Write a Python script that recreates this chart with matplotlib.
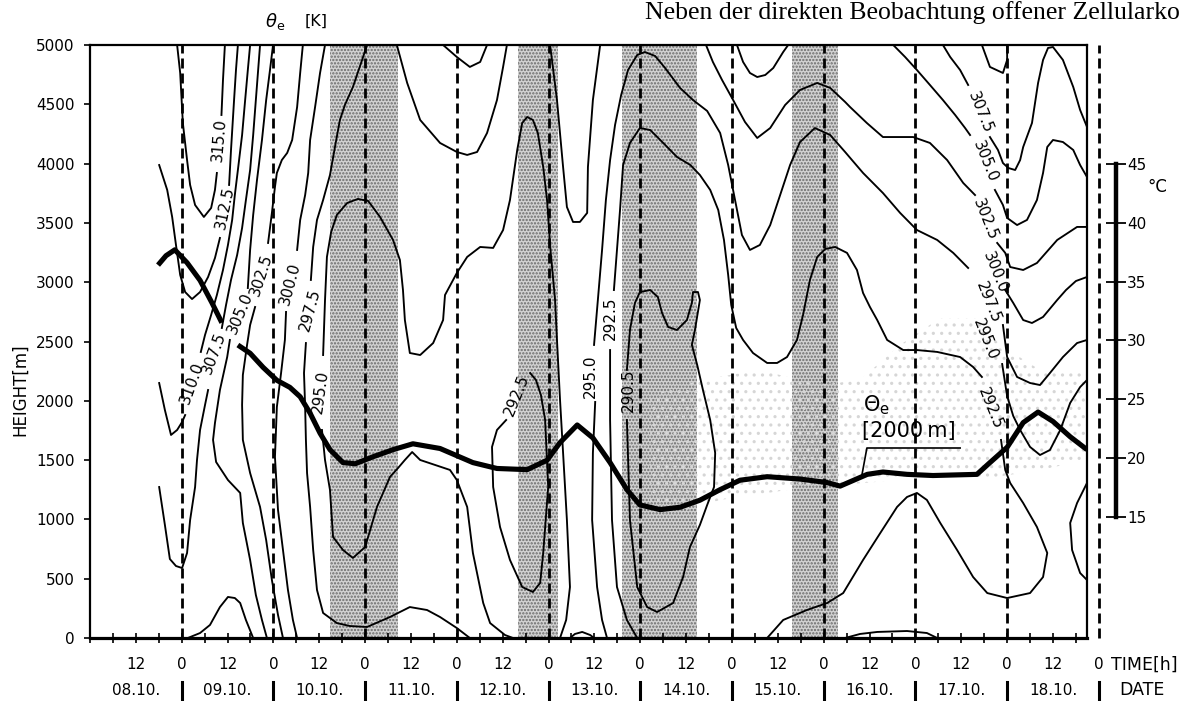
import numpy as np
import matplotlib.pyplot as plt
from matplotlib.patches import Polygon

plt.rcParams['font.family'] = 'DejaVu Sans'
plt.rcParams['mathtext.fontset'] = 'dejavusans'
plt.rcParams['hatch.linewidth'] = 1.1

nan = np.nan

# time axis: hours since 08.10. 00h ; heights in m
# theta_e at 2000 m (deg C, right scale)
theta_t = [17.8, 19.9, 22.2, 25.4, 28.8, 31.9, 34.5, nan,
           38.7, 41.9, 45.3, 48.9, 52.3, 55.0, 57.6, 60.2, 62.8, 66.2,
           69.4, 74.1, 79.3, 84.5, 91.6, 100.2, 106.5, 114.4, 119.6, 123.0,
           127.5, 131.6, 136.1, 140.5, 143.9, 149.2, 154.4, 159.6, 164.9, 170.1,
           177.2, 185.8, 192.9, 196.3, 203.4, 207.5, 213.8, 220.6, 232.1, 235.5,
           240.0, 244.2, 248.1, 252.0, 256.5, 260.9]
theta_c = [36.4, 37.2, 37.7, 36.6, 35.1, 33.2, 31.5, nan,
           29.6, 28.9, 27.7, 26.6, 26.0, 25.2, 23.8, 22.1, 20.7, 19.6,
           19.5, 20.1, 20.7, 21.2, 20.8, 19.6, 19.1, 19.0, 19.8, 21.3,
           22.8, 21.7, 19.6, 17.3, 16.0, 15.6, 15.8, 16.4, 17.3, 18.1,
           18.4, 18.2, 17.9, 17.6, 18.6, 18.8, 18.6, 18.5, 18.6, 19.6,
           20.9, 23.0, 23.9, 23.1, 21.8, 20.7]

# isentropes of theta_e (K); nan = gap for the value label
k315_t = [22.8, 23.6, 24.3, 25.4, 26.2, 27.5, 29.8, 31.7, 32.7, 33.2, nan, 34.4, 34.8, 35.3]
k315_h = [5000, 4764, 4342, 4030, 3820, 3651, 3550, 3626, 3778, 3921, nan, 4410, 4705, 5000]

k3125_t = [18.1, 20.2, 21.5, 22.5, 23.6, 24.9, 26.7, 28.8, 30.9, 32.7, 34.0, nan, 36.4, 36.9, 37.7, 38.2, 38.7]
k3125_h = [3988, 3778, 3550, 3314, 3061, 2917, 2858, 2917, 3044, 3204, 3373, nan, 3820, 4115, 4536, 4789, 5000]

k310_t = [18.1, 19.6, 21.2, 22.8, 24.1, 24.9, nan,
          29.0, 30.1, 31.7, 33.2, 34.8, 36.1, 37.2, 37.9, 38.7, 39.8, 40.6, 41.3, 41.9]
k310_h = [2150, 1922, 1712, 1754, 1821, 1880, nan,
          2412, 2555, 2724, 2892, 3103, 3314, 3525, 3735, 3946, 4241, 4536, 4789, 5000]

k3075_t = [18.1, 19.6, 20.9, 22.5, 24.1, 25.4, 26.2, 27.5, 28.0, 28.8, 30.1, 30.9, nan,
           34.5, 35.6, 36.9, 38.5, 39.8, 40.8, 41.9, 42.7, 43.4, 44.0, 44.5]
k3075_h = [1273, 953, 666, 607, 590, 717, 995, 1273, 1501, 1754, 1965, 2091, nan,
           2614, 2808, 3019, 3229, 3457, 3693, 3946, 4241, 4536, 4789, 5000]

k305_t = [41.3, 41.9, 42.7, 43.7, 45.0, 46.1, 47.1, 47.9, nan,
          36.6, 35.9, 34.0, 32.7, 32.2, 33.0, 36.1, 39.3, 40.0, 41.9, 43.4, 45.0, 46.3]
k305_h = [2951, 3272, 3567, 3862, 4199, 4536, 4789, 5000, nan,
          2513, 2369, 2091, 1813, 1670, 1484, 1332, 1223, 970, 658, 363, 152, 0]

k3025_t = [46.6, 47.6, 48.4, 48.9, 50.2, 51.6, 52.9, 54.2, 55.0, 55.7, nan,
           43.2, 41.9, 41.1, 40.0, 39.8, 40.0, 41.9, 44.5, 46.1, 47.6, 49.2, 50.5]
k3025_h = [3331, 3584, 3803, 3921, 4030, 4090, 4199, 4477, 4764, 5000, nan,
           2791, 2639, 2471, 2218, 1965, 1670, 1391, 1105, 826, 489, 194, 0]

k300_t = [61.5, 60.2, 58.9, 57.6, 57.1, 56.3, 55.0, 54.2, nan,
          51.3, 51.0, 50.0, 48.9, 48.4, 49.2, 50.5, 51.8, 53.1, 54.2]
k300_h = [5000, 4764, 4477, 4199, 3921, 3735, 3525, 3272, nan,
          2749, 2513, 2234, 1948, 1526, 1079, 742, 405, 152, 0]

k2975_t = [72.5, 71.2, 68.8, 66.7, 65.4, 64.1, 62.8, 61.0, 59.4, 58.4, 57.8, nan,
           56.5, 56.0, 56.3, 56.5, 56.8, 57.6, 58.4, 59.4, 61.0, 64.6, 68.0, 72.5,
           78.5, 83.7, 88.2, 91.6, 96.0, 99.4]
k2975_h = [5000, 4874, 4646, 4494, 4368, 4140, 3904, 3693, 3525, 3297, 3019, nan,
           2487, 2234, 1948, 1670, 1391, 1105, 742, 405, 211, 126, 101, 93,
           177, 261, 236, 177, 84, 0]

k295_t = [110.7, 108.6, 104.7, 102.9, 100.2, 98.7, 96.0, 94.2, 86.4, 84.3, 82.4, 80.6,
          78.5, 75.1, 72.0, 68.8, 66.2, 63.6, 62.8, 61.5, 60.7, nan,
          61.0, 61.5, 62.0, 63.1, 64.6, 67.3, 70.1, 72.8, 75.9, 79.3, 81.1, 81.9,
          82.4, 83.7, 86.4, 89.8, 92.4, 92.9, 96.0, 98.7, 102.1, 105.5, 108.1, 109.9,
          111.8, 113.1, 114.4, 115.9, 117.2, 118.6, 119.6, 120.5, 121.7, 122.2, 123.0,
          123.8, 124.8, 125.6, 124.6, 123.0]
k295_h = [0, 25, 126, 295, 717, 1105, 1332, 1417, 1501, 1568, 1501, 1433,
          1358, 1105, 767, 675, 742, 852, 1248, 1501, 1754, nan,
          2386, 2850, 3213, 3423, 3567, 3668, 3702, 3685, 3550, 3356, 3187, 2934,
          2681, 2403, 2386, 2487, 2681, 2892, 3078, 3213, 3297, 3289, 3440, 3693,
          4115, 4342, 4393, 4368, 4258, 3971, 3693, 3272, 2850, 2513, 2007,
          1560, 995, 430, 152, 0]

k295b_t = [135.3, 134.0, 132.7, 131.4, 131.6, 132.2, nan,
           131.9, 132.9, 134.0, 135.0, 136.1, 137.4, 139.0, 140.8, 143.2, 145.2,
           147.9, 150.5, 154.4, 157.8, 161.5, 164.9, 167.0, 168.8, 170.6, 172.7,
           175.3, 178.0, 180.6, 183.2, 185.8, 189.7, 193.7, 197.6, 199.4, 202.3,
           207.5, 212.0, 216.4, 221.7, 225.9, 229.8, nan,
           239.5, 241.6, 244.2, 246.5, 249.4, 253.1, 255.4, 258.0, 260.9]
k295b_h = [0, 152, 430, 995, 1560, 1990, nan,
           2471, 2850, 3272, 3693, 4030, 4326, 4579, 4789, 4916, 4941,
           4907, 4806, 4638, 4536, 4444, 4258, 3988, 3693, 3398, 3272,
           3314, 3482, 3735, 3988, 4182, 4300, 4241, 4098, 4030, 3921,
           3752, 3584, 3440, 3356, 3247, 3120, nan,
           2934, 2825, 2681, 2656, 2707, 2850, 2934, 3010, 3044]

k2925_t = [137.1, 137.9, 138.7, 139.5, 141.3, 143.9, 146.6, 150.0, 153.6, 157.1,
           159.6, 162.3, 164.4, 165.9, 167.0, 167.8, 169.1, 170.9, 173.5, 177.2,
           179.8, 182.4, 185.0, 186.6, 188.4, 190.3, 192.4, 195.0, 198.1, 200.7,
           202.3, 204.1, 206.0, 208.6, 212.8, 216.4, 221.7, 227.7, 231.1, 233.4, nan,
           238.4, 239.5, 240.8, 244.2, 247.8, 250.5, 249.4, 246.0, 240.0, 234.8,
           231.1, 226.9, 222.5, 219.0, 216.4, 213.8, 211.2, 206.8, 202.3, 197.1,
           192.9, 187.6, 181.4, 177.2, nan,
           136.1, 136.1, 136.6, 137.9, 140.5, 143.2]
k2925_h = [2934, 3272, 3609, 3988, 4174, 4300, 4283, 4174, 4056, 3988,
           3904, 3778, 3609, 3356, 3061, 2808, 2614, 2513, 2403, 2319,
           2319, 2369, 2513, 2724, 3019, 3213, 3280, 3297, 3247, 3103,
           2909, 2791, 2681, 2513, 2428, 2428, 2412, 2369, 2285, 2201, nan,
           1670, 1417, 1307, 1138, 936, 717, 514, 379, 337, 379,
           514, 742, 970, 1164, 1223, 1189, 1105, 885, 658, 379,
           295, 236, 152, 0, nan,
           2428, 1838, 995, 430, 152, 0]

k2905_t = [140.5, 141.3, 142.6, 143.9, 146.6, 148.6, 149.7, 151.3, 153.6, 156.2,
           157.5, 157.8, 159.1, 159.6, 158.3, 157.5, 158.9, 160.4, 162.3, 163.6,
           163.3, 161.5, 159.6, 157.0, 155.2, 152.6, 148.4, 145.8, 143.2, 141.3, 140.5]
k2905_h = [2260, 2597, 2825, 2917, 2934, 2875, 2740, 2622, 2597, 2681,
           2825, 2917, 2917, 2850, 2597, 2471, 2302, 2091, 1838, 1560,
           1273, 1121, 953, 767, 514, 295, 219, 261, 430, 995, 1838]

loop2925_t = [115.2, 116.7, 118.0, 119.1, 119.9, 118.6, 117.8, 115.9, 113.1, 109.9,
              107.3, 105.5, 105.2, 106.5, 108.9]
loop2925_h = [2234, 2175, 2049, 1838, 1273, 717, 464, 388, 430, 658,
              936, 1273, 1611, 1754, 1838]

cap11_t = [80.3, 83.0, 86.4, 91.6, 96.0, 98.7, 101.3, 103.9, 106.5, 108.1, 109.1]
cap11_h = [5000, 4680, 4368, 4174, 4098, 4073, 4098, 4258, 4536, 4815, 5000]
cap12_t = [92.4, 96.0, 99.4, 102.1, 103.9]
cap12_h = [5000, 4899, 4815, 4857, 5000]
cap13_t = [120.4, 122.2, 123.8, 124.8, 126.4, 128.2, 130.1, 130.3, 131.6, 133.5]
cap13_h = [5000, 4536, 3971, 3634, 3508, 3508, 3584, 3971, 4536, 5000]
cap15_t = [169.3, 170.9, 172.7, 174.6, 176.7, 178.8, 181.4, 182.7]
cap15_h = [5000, 4857, 4764, 4730, 4747, 4806, 4941, 5000]
cap17_t = [233.4, 235.5, 238.9, 240.0, 240.0]
cap17_h = [5000, 4815, 4764, 4874, 5000]

k3000r_t = [161.2, 163.0, 165.4, 168.3, 171.4, 174.6, 178.0, 181.9, 185.8, 190.3,
            193.7, 197.6, 198.9, 203.3, 207.5, 212.0, 215.4, 219.8, 224.3, 228.5, 231.6, nan,
            237.4, 239.5, 240.8, 244.2, 247.8, 253.1, 258.3, 260.9]
k3000r_h = [5000, 4857, 4705, 4536, 4351, 4216, 4300, 4494, 4621, 4680,
            4638, 4520, 4477, 4342, 4224, 4224, 4224, 4174, 4030, 3837, 3735, nan,
            3331, 3247, 3128, 3103, 3162, 3356, 3466, 3466]
k305r_t = [210.2, 213.3, 216.4, 219.8, 223.2, 226.4, 229.0, 230.3, nan,
           236.8, 238.9, 240.0, 242.6, 245.2, 247.8, 249.4, 250.5, 252.0, 254.6,
           257.3, 259.1, 260.9]
k305r_h = [5000, 4899, 4789, 4663, 4536, 4410, 4300, 4241, nan,
           3778, 3651, 3542, 3482, 3525, 3693, 3921, 4140, 4199, 4182,
           4115, 3988, 3887]
k3075r_t = [223.2, 225.1, 227.7, 229.8, nan,
            235.5, 237.6, 238.9, 240.3, 242.1, 243.4, 244.2, 246.5, 248.1, 249.4,
            250.7, 252.0, 254.6, 257.3, 259.1, 260.9]
k3075r_h = [5000, 4899, 4789, 4663, nan,
            4224, 4115, 4005, 3963, 3946, 4030, 4140, 4342, 4680, 4874,
            4975, 4983, 4874, 4646, 4452, 4309]
k2975r_t = [238.9, 240.0, 242.6, 246.0, 248.6, 251.2, 254.6, 258.3, 260.9]
k2975r_h = [2639, 2369, 2201, 2150, 2133, 2234, 2369, 2487, 2513]
k295r_t = [238.7, 240.0, 241.6, 243.4, 246.0, 248.6, 251.2, 253.9, 256.5, 259.1, 260.9]
k295r_h = [2310, 2040, 1872, 1754, 1611, 1543, 1585, 1754, 1982, 2116, 2175]

bump09_t = [25.6, 28.8, 31.4, 34.0, 36.1, 37.9, 39.3, 40.8, 42.7]
bump09_h = [0, 42, 110, 261, 346, 337, 295, 152, 0]
bump13_t = [125.6, 126.9, 128.8, 130.9, 131.9]
bump13_h = [0, 34, 51, 25, 0]
bump16_t = [197.6, 201.5, 206.0, 213.8, 219.0, 221.7]
bump16_h = [0, 34, 51, 59, 42, 0]
edge18_t = [260.9, 258.3, 256.5, 257.0, 259.1, 260.9]
edge18_h = [1307, 1138, 970, 742, 548, 489]

isolines = [(k315_t, k315_h), (k3125_t, k3125_h), (k310_t, k310_h), (k3075_t, k3075_h),
            (k305_t, k305_h), (k3025_t, k3025_h), (k300_t, k300_h), (k2975_t, k2975_h),
            (k295_t, k295_h), (k295b_t, k295b_h), (k2925_t, k2925_h), (k2905_t, k2905_h),
            (loop2925_t, loop2925_h), (cap11_t, cap11_h), (cap12_t, cap12_h),
            (cap13_t, cap13_h), (cap15_t, cap15_h), (cap17_t, cap17_h),
            (k3000r_t, k3000r_h), (k305r_t, k305r_h), (k3075r_t, k3075r_h),
            (k2975r_t, k2975r_h), (k295r_t, k295r_h),
            (bump09_t, bump09_h), (bump13_t, bump13_h), (bump16_t, bump16_h),
            (edge18_t, edge18_h)]

# value labels: text, time, height, rotation
iso_labels = [("315.0", 33.8, 4199, 85), ("312.5", 35.3, 3626, 78),
              ("310.0", 26.7, 2150, 70), ("307.5", 32.5, 2403, 70),
              ("305.0", 39.3, 2740, 67), ("302.5", 44.8, 3061, 72),
              ("300.0", 52.3, 2985, 75), ("297.5", 57.6, 2766, 75),
              ("295.0", 60.2, 2074, 82), ("292.5", 111.8, 2049, 68),
              ("295.0", 130.9, 2209, 90), ("292.5", 136.1, 2698, 90),
              ("290.5", 140.8, 2091, 90),
              ("307.5", 232.9, 4435, -68), ("305.0", 234.2, 4014, -68),
              ("302.5", 234.2, 3525, -68), ("300.0", 236.8, 3086, -68),
              ("297.5", 235.0, 2833, -68), ("295.0", 234.2, 2513, -68),
              ("292.5", 235.5, 1939, -68)]

# shaded periods (hours)
bands = [(62.8, 80.6), (112.0, 122.5), (139.2, 158.9), (183.7, 195.8)]

# lightly shaded layer around 2000 m, 14.10.-18.10.
layer_t = [146.6, 146.6, 159.6, 175.3, 191.0, 201.5, 212.0, 222.5, 231.6, 238.2,
           248.6, 260.9, 260.9, 248.6, 235.5, 212.0, 185.8, 164.9, 154.4]
layer_h = [1121, 2049, 2175, 2260, 2133, 2175, 2471, 2698, 2698, 2471,
           2260, 2243, 1501, 1417, 1349, 1332, 1264, 1164, 1062]

hour_ticks = np.arange(12, 265, 12)
dates = ["08.10.", "09.10.", "10.10.", "11.10.", "12.10.", "13.10.",
         "14.10.", "15.10.", "16.10.", "17.10.", "18.10."]
midnights = np.arange(24, 265, 24)

fig = plt.figure(figsize=(11.95, 7.01), dpi=100)
ax = fig.add_axes([90 / 1195, 63 / 701, 997 / 1195, 593 / 701])
ax.set_xlim(0, 260.9)
ax.set_ylim(0, 5000)

ax.add_patch(Polygon(np.column_stack([layer_t, layer_h]), closed=True,
                     facecolor='none', edgecolor='#d6d6d6', hatch='..',
                     linewidth=0, zorder=0.5))

for t0, t1 in bands:
    ax.axvspan(t0, t1, facecolor='#d2d2d2', edgecolor='#6a6a6a', hatch='.....',
               linewidth=0, zorder=0)

dash = (0, (3.6, 1.8))
for d in midnights[:-1]:
    ax.axvline(d, color='k', lw=2.0, ls=dash, zorder=2)
ax.axvline(midnights[-1], color='k', lw=2.0, ls=dash, zorder=2, clip_on=False)

for t, h in isolines:
    ax.plot(t, h, color='k', lw=1.35, zorder=3, solid_joinstyle='round')

for s, t, h, r in iso_labels:
    ax.text(t, h, s, rotation=r, rotation_mode='anchor', ha='center', va='center',
            fontsize=11, zorder=4)

ax.set_yticks(np.arange(0, 5001, 500))
ax.tick_params(axis='y', direction='out', length=4, width=1.2, pad=7, labelsize=11)
ax.set_xticks(np.arange(0, 261, 6))
ax.tick_params(axis='x', direction='inout', length=7, width=1.2, labelbottom=False)
for side in ['left', 'top', 'right']:
    ax.spines[side].set_linewidth(1.6)
ax.spines['bottom'].set_linewidth(2.3)

tr = ax.get_xaxis_transform()
for t in hour_ticks:
    ax.text(t, -0.045, '12' if t % 24 else '0', transform=tr, ha='center',
            va='center', fontsize=11)
ax.text(267.3, -0.045, 'TIME[h]', transform=tr, ha='left', va='center', fontsize=12.5)
for i, s in enumerate(dates):
    ax.text(12 + 24 * i, -0.088, s, transform=tr, ha='center', va='center', fontsize=11)
for d in midnights:
    ax.plot([d, d], [-0.074, -0.103], transform=tr, color='k', lw=2.2, clip_on=False)
ax.text(275.3, -0.088, 'DATE', transform=tr, ha='center', va='center', fontsize=12.5)

# theta_e 2000 m on the degC scale
ax2 = ax.twinx()
ax2.set_ylim(4.68, 55.12)
ax2.plot(theta_t, theta_c, color='k', lw=3.7, zorder=5,
         solid_capstyle='butt', solid_joinstyle='round')
for side in ['left', 'top', 'bottom']:
    ax2.spines[side].set_visible(False)
ax2.spines['right'].set_position(('axes', 1.0291))
ax2.spines['right'].set_bounds(15, 45)
ax2.spines['right'].set_linewidth(3.2)
ax2.set_yticks([15, 20, 25, 30, 35, 40, 45])
ax2.tick_params(axis='y', direction='inout', length=14, width=1.3, pad=1, labelsize=11)

# key for the thick curve
key_t = [202.0, 203.3, 227.7]
key_h = [1374, 1602, 1602]
ax.plot(key_t, key_h, color='k', lw=1.2, zorder=4)
ax.text(202.3, 1960, r'$\Theta_\mathrm{e}$', fontsize=15, ha='left', va='center', zorder=4)
ax.text(202.0, 1745, '[2000\u2009m]', fontsize=15, ha='left', va='center', zorder=4)

fig.text(1147 / 1195, 1 - 187 / 701, '°C', fontsize=12, va='center')
fig.text(265 / 1195, 1 - 21 / 701, r'$\theta_\mathrm{e}$', fontsize=13, va='center')
fig.text(305 / 1195, 1 - 21 / 701, '[K]', fontsize=11.5, va='center')
fig.text(20 / 1195, 1 - 390 / 701, 'HEIGHT[m]', rotation=90, fontsize=12,
         ha='center', va='center')
fig.text(645 / 1195, 1 - 1 / 701, 'Neben der direkten Beobachtung offener Zellularko',
         family='Liberation Serif', fontsize=18.5, ha='left', va='top')

fig.savefig('out.png', dpi=100)
